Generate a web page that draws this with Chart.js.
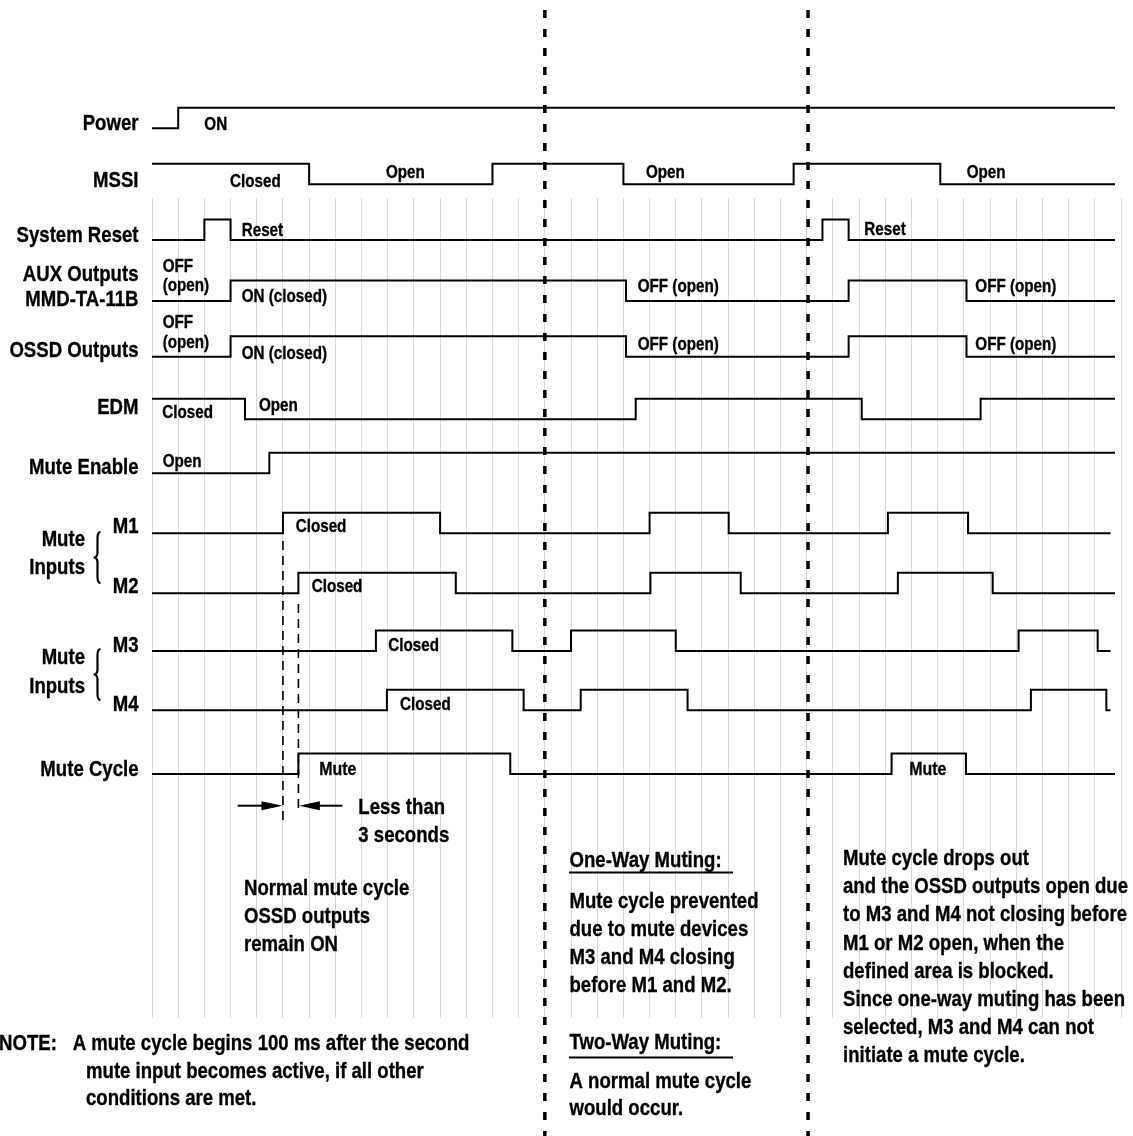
<!DOCTYPE html>
<html>
<head>
<meta charset="utf-8">
<title>Mute timing diagram</title>
<script src="https://cdn.jsdelivr.net/npm/chart.js@4.4.1/dist/chart.umd.min.js"></script>
<style>
  html, body { margin: 0; padding: 0; background: #fff; }
  #wrap { width: 1133px; height: 1136px; }
</style>
</head>
<body>
<div id="wrap"><canvas id="chart" width="1133" height="1136"></canvas></div>
<script>
// time axis : one unit = one grey grid column (0 .. 37)
const gridColumns = 37;
const traceEnd = 36.77;

// each signal = list of edges [time, level after the edge]
const power      = [[0, 0], [1, 1]];
const mssi       = [[0, 1], [6, 0], [13, 1], [18, 0], [24.5, 1], [30.1, 0]];
const sysReset   = [[0, 0], [2, 1], [3, 0], [25.6, 1], [26.6, 0]];
const auxOut     = [[0, 0], [3, 1], [18.1, 0], [26.6, 1], [31.1, 0]];
const ossdOut    = [[0, 0], [3, 1], [18.1, 0], [26.6, 1], [31.1, 0]];
const edm        = [[0, 1], [3.55, 0], [18.47, 1], [27.1, 0], [31.64, 1]];
const muteEnable = [[0, 0], [4.48, 1]];
const m1         = [[0, 0], [5, 1], [11, 0], [19, 1], [22.02, 0], [28.1, 1], [31.16, 0]];
const m2         = [[0, 0], [5.59, 1], [11.6, 0], [19.03, 1], [22.48, 0], [28.48, 1], [32.1, 0]];
const m3         = [[0, 0], [8.55, 1], [13.76, 0], [16, 1], [20, 0], [33.09, 1], [36.11, 0]];
const m4         = [[0, 0], [8.97, 1], [14.19, 0], [16.37, 1], [20.45, 0], [33.56, 1], [36.44, 0]];
const muteCycle  = [[0, 0], [5.59, 1], [13.68, 0], [28.24, 1], [31.08, 0]];

// the two scenario separators
const sectionBreaks = [15, 25.05];

// vertical layout of the lanes (baseline of the low level, in px)
const lanes = [
    { steps: power,      low: 128.3 },
    { steps: mssi,       low: 184.3 },
    { steps: sysReset,   low: 240 },
    { steps: auxOut,     low: 301 },
    { steps: ossdOut,    low: 356.7 },
    { steps: edm,        low: 419.3 },
    { steps: muteEnable, low: 473.3 },
    { steps: m1,         low: 533.3, end: 36.6 },
    { steps: m2,         low: 593.3 },
    { steps: m3,         low: 651,   end: 36.6 },
    { steps: m4,         low: 710.3, end: 36.6 },
    { steps: muteCycle,  low: 774 }
];
const amp = 20.5;

const datasets = lanes.map(lane => {
    const pts = lane.steps.map(([t, lv]) => ({ x: t, y: lane.low - lv * amp }));
    const last = lane.steps[lane.steps.length - 1];
    pts.push({ x: lane.end || traceEnd, y: lane.low - last[1] * amp });
    return {
        data: pts, stepped: true, borderColor: '#000', borderWidth: 2,
        pointRadius: 0, fill: false, clip: false
    };
});

// thin dashed markers at the first M1 / M2 closing
const m1Rise = m1[1][0], m2Rise = m2[1][0];
datasets.push({
    data: [{ x: m1Rise, y: 541 }, { x: m1Rise, y: 820 }],
    borderColor: '#000', borderWidth: 1.6, borderDash: [9, 6], pointRadius: 0, clip: false
});
datasets.push({
    data: [{ x: m2Rise, y: 604 }, { x: m2Rise, y: 808 }],
    borderColor: '#000', borderWidth: 1.6, borderDash: [9, 6], pointRadius: 0, clip: false
});
sectionBreaks.forEach(t => {
    datasets.push({
        data: [{ x: t, y: 10 }, { x: t, y: 1136 }],
        borderColor: '#000', borderWidth: 3.5, borderDash: [8, 11], pointRadius: 0,
        clip: false, order: -1
    });
});

// texts
const sideLabels = [
    ['Power', 130], ['MSSI', 186.5], ['System Reset', 241.5], ['AUX Outputs', 281],
    ['MMD-TA-11B', 306], ['OSSD Outputs', 356.5], ['EDM', 414], ['Mute Enable', 474],
    ['M1', 533], ['M2', 592.5], ['M3', 651.5], ['M4', 710.5], ['Mute Cycle', 776]
];
const stateLabels = [
    ['ON', 204.3, 130], ['Closed', 230, 186.5], ['Open', 386, 178], ['Open', 646, 178], ['Open', 966.7, 178],
    ['Reset', 241.7, 235.6], ['Reset', 864.3, 235],
    ['OFF', 162.7, 271.7], ['(open)', 162.7, 291.4], ['ON (closed)', 241.7, 302.3],
    ['OFF (open)', 637.7, 292.4], ['OFF (open)', 975.3, 292.4],
    ['OFF', 162.7, 328], ['(open)', 162.7, 348], ['ON (closed)', 241.7, 358.8],
    ['OFF (open)', 637.7, 349.8], ['OFF (open)', 975.3, 349.8],
    ['Closed', 162.3, 418], ['Open', 259, 411], ['Open', 162.7, 467],
    ['Closed', 295.7, 532], ['Closed', 311.7, 592], ['Closed', 388.3, 651], ['Closed', 400, 709.6]
];
const muteLabels = [['Mute', 319.3, 775], ['Mute', 909.3, 775]];
const notes = [
    ['Less than', 358.3, 814], ['3 seconds', 358.3, 841.7],
    ['Normal mute cycle', 244, 895], ['OSSD outputs', 244, 922.7], ['remain ON', 244, 950.7],
    ['NOTE:', -1, 1050], ['A mute cycle begins 100 ms after the second', 72.7, 1050],
    ['mute input becomes active, if all other', 86, 1077.5], ['conditions are met.', 86, 1105],
    ['One-Way Muting:', 569.5, 867], ['Mute cycle prevented', 569.5, 908], ['due to mute devices', 569.5, 936],
    ['M3 and M4 closing', 569.5, 964], ['before M1 and M2.', 569.5, 992],
    ['Two-Way Muting:', 569.5, 1048.5], ['A normal mute cycle', 569.5, 1087.5], ['would occur.', 569.5, 1115],
    ['Mute cycle drops out', 843, 865], ['and the OSSD outputs open due', 843, 893.2],
    ['to M3 and M4 not closing before', 843, 921.4], ['M1 or M2 open, when the', 843, 949.6],
    ['defined area is blocked.', 843, 977.8], ['Since one-way muting has been', 843, 1006],
    ['selected, M3 and M4 can not', 843, 1034.2], ['initiate a mute cycle.', 843, 1062.4]
];

function narrowText(ctx, str, x, y, size, squeeze, align) {
    ctx.save();
    ctx.translate(x, y);
    ctx.scale(squeeze, 1);
    ctx.font = 'bold ' + size + 'px "Liberation Sans", Arial, sans-serif';
    ctx.textAlign = align || 'left';
    ctx.textBaseline = 'alphabetic';
    ctx.fillStyle = '#000';
    ctx.strokeStyle = '#000';
    ctx.lineWidth = 0.35;
    ctx.fillText(str, 0, 0);
    ctx.strokeText(str, 0, 0);
    ctx.restore();
}

function brace(ctx, x, y0, y1) {
    const mid = (y0 + y1) / 2;
    ctx.beginPath();
    ctx.moveTo(x + 3, y0);
    ctx.quadraticCurveTo(x, y0, x, y0 + 6);
    ctx.lineTo(x, mid - 5);
    ctx.quadraticCurveTo(x, mid, x - 4, mid);
    ctx.quadraticCurveTo(x, mid, x, mid + 5);
    ctx.lineTo(x, y1 - 6);
    ctx.quadraticCurveTo(x, y1, x + 3, y1);
    ctx.stroke();
}

function arrow(ctx, xFrom, xTip, y) {
    const dir = xTip > xFrom ? 1 : -1;
    ctx.beginPath();
    ctx.moveTo(xFrom, y);
    ctx.lineTo(xTip - dir * 18, y);
    ctx.stroke();
    ctx.beginPath();
    ctx.moveTo(xTip, y);
    ctx.lineTo(xTip - dir * 21, y - 4.5);
    ctx.lineTo(xTip - dir * 21, y + 4.5);
    ctx.closePath();
    ctx.fill();
}

const annotations = {
    id: 'annotations',
    afterDraw(chart) {
        const ctx = chart.ctx;
        const xs = chart.scales.x;
        sideLabels.forEach(([s, y]) => narrowText(ctx, s, 138.5, y, 22, 0.845, 'right'));
        narrowText(ctx, 'Mute', 85, 546, 22, 0.845, 'right');
        narrowText(ctx, 'Inputs', 85, 574, 22, 0.845, 'right');
        narrowText(ctx, 'Mute', 85, 664, 22, 0.845, 'right');
        narrowText(ctx, 'Inputs', 85, 692.5, 22, 0.845, 'right');
        stateLabels.forEach(([s, x, y]) => narrowText(ctx, s, x, y, 18, 0.845));
        muteLabels.forEach(([s, x, y]) => narrowText(ctx, s, x, y, 18.5, 0.86));
        notes.forEach(([s, x, y]) => narrowText(ctx, s, x, y, 22, 0.845));

        ctx.save();
        ctx.strokeStyle = '#000';
        ctx.fillStyle = '#000';
        ctx.lineWidth = 2.2;
        brace(ctx, 97.5, 532, 583);
        brace(ctx, 97.5, 649, 700);
        ctx.lineWidth = 2;
        ctx.beginPath();
        ctx.moveTo(569, 872.5); ctx.lineTo(733, 872.5);
        ctx.moveTo(569, 1057.5); ctx.lineTo(733, 1057.5);
        ctx.stroke();
        arrow(ctx, 237.7, xs.getPixelForValue(m1Rise) - 0.5, 805.7);
        arrow(ctx, 342.3, xs.getPixelForValue(m2Rise) + 0.5, 805.7);
        ctx.restore();
    }
};

new Chart(document.getElementById('chart'), {
    type: 'line',
    data: { datasets: datasets },
    options: {
        responsive: false,
        animation: false,
        events: [],
        layout: { padding: { left: 152, right: 12, top: 198, bottom: 118 } },
        plugins: { legend: { display: false }, tooltip: { enabled: false } },
        scales: {
            x: {
                type: 'linear', min: 0, max: gridColumns,
                ticks: { display: false, stepSize: 1 },
                grid: { color: '#d9d9d9', lineWidth: 1, drawTicks: false },
                border: { display: false }
            },
            y: {
                type: 'linear', min: 198, max: 1018, reverse: true,
                display: false
            }
        }
    },
    plugins: [annotations]
});
</script>
</body>
</html>
